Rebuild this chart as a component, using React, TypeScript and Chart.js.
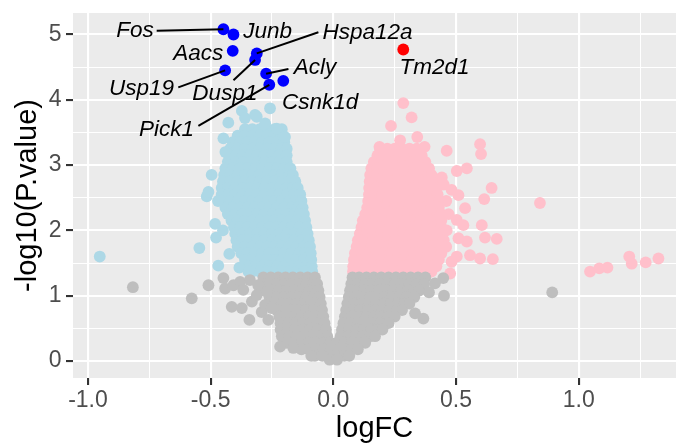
import React, { useEffect, useRef } from 'react';
import { Chart, registerables } from 'chart.js';

Chart.register(...registerables);

const FONT = '"Liberation Sans", Arial, Helvetica, sans-serif';

// Down-regulated (P < 0.05, logFC < 0). Each row: [-log10(P.value), logFC, logFC, ...]
const downRows: number[][] = [
  [3.55, -0.36, -0.33, -0.3, -0.27, -0.24, -0.21],
  [3.45, -0.39, -0.36, -0.33, -0.3, -0.27, -0.24, -0.21],
  [3.35, -0.41, -0.38, -0.35, -0.32, -0.29, -0.26, -0.23, -0.2],
  [3.25, -0.42, -0.39, -0.36, -0.33, -0.3, -0.27, -0.24, -0.21, -0.19],
  [3.15, -0.425, -0.4, -0.37, -0.34, -0.31, -0.28, -0.25, -0.22, -0.19],
  [3.05, -0.43, -0.4, -0.37, -0.34, -0.31, -0.28, -0.25, -0.22, -0.19],
  [2.95, -0.44, -0.41, -0.38, -0.35, -0.32, -0.29, -0.26, -0.23, -0.2, -0.175],
  [2.85, -0.445, -0.42, -0.39, -0.36, -0.33, -0.3, -0.27, -0.24, -0.21, -0.18, -0.165],
  [2.75, -0.45, -0.42, -0.39, -0.36, -0.33, -0.3, -0.27, -0.24, -0.21, -0.18, -0.155],
  [2.65, -0.455, -0.43, -0.4, -0.37, -0.34, -0.31, -0.28, -0.25, -0.22, -0.19, -0.165, -0.145],
  [2.55, -0.455, -0.43, -0.4, -0.37, -0.34, -0.31, -0.28, -0.25, -0.22, -0.19, -0.16, -0.135],
  [2.45, -0.45, -0.42, -0.39, -0.36, -0.33, -0.3, -0.27, -0.24, -0.21, -0.18, -0.155, -0.13],
  [2.35, -0.44, -0.41, -0.38, -0.35, -0.32, -0.29, -0.26, -0.23, -0.2, -0.17, -0.145, -0.125],
  [2.25, -0.43, -0.4, -0.37, -0.34, -0.31, -0.28, -0.25, -0.22, -0.19, -0.16, -0.14, -0.12],
  [2.15, -0.415, -0.39, -0.36, -0.33, -0.3, -0.27, -0.24, -0.21, -0.18, -0.15, -0.115],
  [2.05, -0.405, -0.38, -0.35, -0.32, -0.29, -0.26, -0.23, -0.2, -0.17, -0.14, -0.11],
  [1.95, -0.4, -0.37, -0.34, -0.31, -0.28, -0.25, -0.22, -0.19, -0.16, -0.13, -0.105],
  [1.85, -0.395, -0.37, -0.34, -0.31, -0.28, -0.25, -0.22, -0.19, -0.16, -0.13, -0.1],
  [1.75, -0.39, -0.36, -0.33, -0.3, -0.27, -0.24, -0.21, -0.18, -0.15, -0.12, -0.095],
  [1.65, -0.375, -0.35, -0.32, -0.29, -0.26, -0.23, -0.2, -0.17, -0.14, -0.115, -0.092],
  [1.55, -0.36, -0.33, -0.3, -0.27, -0.24, -0.21, -0.18, -0.15, -0.12, -0.09],
  [1.45, -0.345, -0.32, -0.29, -0.26, -0.23, -0.2, -0.17, -0.14, -0.11, -0.088],
  [1.37, -0.33, -0.3, -0.27, -0.24, -0.21, -0.18, -0.15, -0.12, -0.086],
];

// Scattered down-regulated genes: [logFC, -log10(P.value)]
const downExtra: number[][] = [
  [-0.952, 1.6], [-0.546, 1.73], [-0.482, 2.1], [-0.478, 1.89], [-0.469, 1.46],
  [-0.516, 2.52], [-0.509, 2.59], [-0.496, 2.85], [-0.448, 3.41], [-0.428, 3.65],
  [-0.373, 3.83], [-0.319, 3.77], [-0.258, 3.87], [-0.424, 1.64], [-0.383, 1.43],
  [-0.346, 1.37], [-0.36, 3.72], [-0.312, 3.74], [-0.278, 3.64], [-0.231, 3.56],
  [-0.197, 3.43], [-0.44, 3.2], [-0.47, 2.45], [-0.45, 2.0],
];

// Up-regulated (P < 0.05, logFC > 0). Each row: [-log10(P.value), logFC, logFC, ...]
const upRows: number[][] = [
  [3.25, 0.19, 0.22, 0.25, 0.28, 0.31, 0.34],
  [3.15, 0.18, 0.21, 0.24, 0.27, 0.3, 0.33, 0.36],
  [3.05, 0.165, 0.195, 0.225, 0.255, 0.285, 0.315, 0.345, 0.375],
  [2.95, 0.155, 0.18, 0.21, 0.24, 0.27, 0.3, 0.33, 0.36, 0.39],
  [2.85, 0.15, 0.175, 0.205, 0.235, 0.265, 0.295, 0.325, 0.355, 0.385, 0.4],
  [2.75, 0.148, 0.17, 0.2, 0.23, 0.26, 0.29, 0.32, 0.35, 0.38, 0.41],
  [2.65, 0.146, 0.175, 0.205, 0.235, 0.265, 0.295, 0.325, 0.355, 0.385, 0.42],
  [2.55, 0.145, 0.17, 0.2, 0.23, 0.26, 0.29, 0.32, 0.35, 0.38, 0.41, 0.425],
  [2.45, 0.142, 0.165, 0.195, 0.225, 0.255, 0.285, 0.315, 0.345, 0.375, 0.405, 0.43],
  [2.35, 0.138, 0.16, 0.19, 0.22, 0.25, 0.28, 0.31, 0.34, 0.37, 0.4, 0.43],
  [2.25, 0.13, 0.155, 0.185, 0.215, 0.245, 0.275, 0.305, 0.335, 0.365, 0.395, 0.425, 0.44],
  [2.15, 0.12, 0.145, 0.175, 0.205, 0.235, 0.265, 0.295, 0.325, 0.355, 0.385, 0.415, 0.44],
  [2.05, 0.115, 0.14, 0.17, 0.2, 0.23, 0.26, 0.29, 0.32, 0.35, 0.38, 0.41, 0.44],
  [1.95, 0.108, 0.135, 0.165, 0.195, 0.225, 0.255, 0.285, 0.315, 0.345, 0.375, 0.405, 0.435],
  [1.85, 0.1, 0.13, 0.16, 0.19, 0.22, 0.25, 0.28, 0.31, 0.34, 0.37, 0.4, 0.43, 0.45],
  [1.75, 0.095, 0.125, 0.155, 0.185, 0.215, 0.245, 0.275, 0.305, 0.335, 0.365, 0.395, 0.425, 0.44],
  [1.65, 0.088, 0.115, 0.145, 0.175, 0.205, 0.235, 0.265, 0.295, 0.325, 0.355, 0.385, 0.415, 0.44],
  [1.55, 0.084, 0.11, 0.14, 0.17, 0.2, 0.23, 0.26, 0.29, 0.32, 0.35, 0.38, 0.41, 0.43],
  [1.45, 0.081, 0.105, 0.135, 0.165, 0.195, 0.225, 0.255, 0.285, 0.315, 0.345, 0.375, 0.4, 0.42],
  [1.37, 0.08, 0.11, 0.14, 0.17, 0.2, 0.23, 0.26, 0.29, 0.32, 0.35, 0.38, 0.4],
];

// Scattered up-regulated genes: [logFC, -log10(P.value)]
const upExtra: number[][] = [
  [0.285, 3.95], [0.319, 3.73], [0.235, 3.6], [0.342, 3.43], [0.272, 3.38],
  [0.188, 3.28], [0.372, 3.28], [0.462, 3.22], [0.598, 3.32], [0.602, 3.17],
  [0.544, 2.95], [0.503, 2.91], [0.442, 2.81], [0.645, 2.65], [0.615, 2.48],
  [0.842, 2.42], [0.482, 2.62], [0.51, 2.54], [0.537, 2.34], [0.503, 2.16],
  [0.53, 2.08], [0.605, 2.08], [0.618, 1.89], [0.666, 1.87], [0.544, 1.83],
  [0.51, 1.88], [0.462, 2.0], [0.557, 1.62], [0.598, 1.57], [0.503, 1.6],
  [0.482, 1.52], [0.65, 1.56], [0.476, 1.34], [0.46, 2.45], [0.47, 2.25],
  [0.46, 1.75], [0.45, 2.7], [1.046, 1.37], [1.084, 1.42], [1.117, 1.43],
  [1.206, 1.6], [1.216, 1.49], [1.273, 1.51], [1.325, 1.57],
];

// Not significant, logFC < 0. Each row: [-log10(P.value), logFC, ...]
const flatLeftRows: number[][] = [
  [1.28, -0.285, -0.255, -0.225, -0.195, -0.165, -0.135, -0.105, -0.075],
  [1.18, -0.29, -0.26, -0.23, -0.2, -0.17, -0.14, -0.11, -0.085, -0.066],
  [1.08, -0.28, -0.25, -0.22, -0.19, -0.16, -0.13, -0.1, -0.08, -0.061],
  [0.98, -0.26, -0.23, -0.2, -0.17, -0.14, -0.11, -0.08, -0.056],
  [0.88, -0.24, -0.21, -0.18, -0.15, -0.12, -0.09, -0.07, -0.051],
  [0.78, -0.23, -0.2, -0.17, -0.14, -0.11, -0.08, -0.046],
  [0.68, -0.22, -0.19, -0.16, -0.13, -0.1, -0.07, -0.041],
  [0.58, -0.215, -0.185, -0.155, -0.125, -0.095, -0.065, -0.036],
  [0.48, -0.215, -0.185, -0.155, -0.125, -0.095, -0.065, -0.03],
  [0.38, -0.21, -0.18, -0.15, -0.12, -0.09, -0.06, -0.025],
  [0.28, -0.19, -0.16, -0.13, -0.1, -0.07, -0.04, -0.012],
  [0.18, -0.13, -0.1, -0.07, -0.04, -0.01],
  [0.08, -0.075, -0.045, -0.015],
  [0.02, -0.015],
];

// Not significant, logFC > 0. Each row: [-log10(P.value), logFC, ...]
const flatRightRows: number[][] = [
  [1.28, 0.078, 0.105, 0.135, 0.165, 0.195, 0.225, 0.255, 0.285, 0.315, 0.345, 0.375],
  [1.18, 0.073, 0.1, 0.13, 0.16, 0.19, 0.22, 0.25, 0.28, 0.31, 0.34, 0.37],
  [1.08, 0.068, 0.095, 0.125, 0.155, 0.185, 0.215, 0.245, 0.275, 0.305, 0.33, 0.35],
  [0.98, 0.063, 0.09, 0.12, 0.15, 0.18, 0.21, 0.24, 0.27, 0.3, 0.33],
  [0.88, 0.057, 0.085, 0.115, 0.145, 0.175, 0.205, 0.235, 0.265, 0.29, 0.31],
  [0.78, 0.052, 0.08, 0.11, 0.14, 0.17, 0.2, 0.23, 0.26, 0.28],
  [0.68, 0.047, 0.075, 0.105, 0.135, 0.165, 0.195, 0.225, 0.25],
  [0.58, 0.041, 0.07, 0.1, 0.13, 0.16, 0.19, 0.225],
  [0.48, 0.035, 0.065, 0.095, 0.125, 0.155, 0.18, 0.2],
  [0.38, 0.03, 0.06, 0.09, 0.12, 0.15, 0.17],
  [0.28, 0.015, 0.045, 0.075, 0.105, 0.13],
  [0.18, 0.02, 0.05, 0.075, 0.1],
  [0.08, 0.02, 0.045, 0.065],
  [0.02, 0.015],
];

// Scattered non-significant genes: [logFC, -log10(P.value)]
const flatExtra: number[][] = [
  [-0.817, 1.13], [-0.577, 0.96], [-0.509, 1.16], [-0.448, 1.27], [-0.441, 1.11],
  [-0.407, 1.16], [-0.38, 1.21], [-0.34, 1.24], [-0.367, 1.09], [-0.414, 0.83],
  [-0.373, 0.81], [-0.332, 0.91], [-0.342, 0.63], [-0.306, 1.16], [-0.312, 1.01],
  [-0.292, 0.75], [-0.271, 1.06], [-0.265, 0.63], [-0.278, 0.86], [-0.251, 0.81],
  [-0.217, 0.22], [-0.163, 0.2], [-0.09, 0.08],
  [0.448, 1.27], [0.414, 1.19], [0.451, 1.0], [0.367, 0.65], [0.333, 0.73],
  [0.39, 1.05], [0.892, 1.05],
];

// Highlighted genes
const geneNames = ['Fos', 'Junb', 'Hspa12a', 'Aacs', 'Usp19', 'Dusp1', 'Acly', 'Csnk1d', 'Pick1', 'Tm2d1'];
const geneLogFC = [-0.448, -0.407, -0.312, -0.41, -0.441, -0.319, -0.274, -0.204, -0.261, 0.285];
const geneLogP = [5.08, 5.0, 4.71, 4.75, 4.45, 4.61, 4.4, 4.29, 4.23, 4.77];

// Where each gene name sits (data units) and where its leader line starts (null = no line)
const labelLogFC = [-0.808, -0.268, 0.139, -0.551, -0.782, -0.442, -0.075, -0.054, -0.68, 0.412];
const labelLogP = [5.05, 5.04, 5.02, 4.7, 4.165, 4.1, 4.49, 3.95, 3.54, 4.49];
const leaderLogFC: (number | null)[] = [-0.72, null, -0.061, null, -0.632, -0.407, -0.183, null, -0.55, null];
const leaderLogP: (number | null)[] = [5.058, null, 5.034, null, 4.19, 4.3, 4.47, null, 3.6, null];

// Axes
const xBreaks = [-1, -0.75, -0.5, -0.25, 0, 0.25, 0.5, 0.75, 1, 1.25];
const xMajor = [-1, -0.5, 0, 0.5, 1];
const xTickLabels = ['-1.0', '-0.5', '0.0', '0.5', '1.0'];
const yBreaks = [0, 0.5, 1, 1.5, 2, 2.5, 3, 3.5, 4, 4.5, 5];
const yMajor = [0, 1, 2, 3, 4, 5];
const yTickLabels = ['0', '1', '2', '3', '4', '5'];

const fromRows = (rows: number[][]) =>
  rows.flatMap(([y, ...xs]) => xs.map((x) => ({ x, y })));
const fromPairs = (pairs: number[][]) => pairs.map(([x, y]) => ({ x, y }));

const panelBackground = {
  id: 'panelBackground',
  beforeDraw(chart: any) {
    const { ctx, chartArea } = chart;
    const { left, top, right, bottom } = chartArea;
    ctx.save();
    ctx.fillStyle = '#EBEBEB';
    ctx.fillRect(left, top, right - left, bottom - top);
    ctx.restore();
  },
};

const geneLabels = {
  id: 'geneLabels',
  afterDatasetsDraw(chart: any) {
    const { ctx } = chart;
    const xs = chart.scales.x;
    const ys = chart.scales.y;
    ctx.save();
    ctx.strokeStyle = '#000000';
    ctx.lineWidth = 2;
    ctx.lineCap = 'butt';
    geneNames.forEach((_, i) => {
      const sx = leaderLogFC[i];
      const sy = leaderLogP[i];
      if (sx === null || sy === null) return;
      ctx.beginPath();
      ctx.moveTo(xs.getPixelForValue(sx), ys.getPixelForValue(sy));
      ctx.lineTo(xs.getPixelForValue(geneLogFC[i]), ys.getPixelForValue(geneLogP[i]));
      ctx.stroke();
    });
    ctx.fillStyle = '#000000';
    ctx.font = `italic 22.5px ${FONT}`;
    ctx.textAlign = 'center';
    ctx.textBaseline = 'middle';
    geneNames.forEach((name, i) => {
      ctx.fillText(name, xs.getPixelForValue(labelLogFC[i]), ys.getPixelForValue(labelLogP[i]));
    });
    ctx.restore();
  },
};

export default function App() {
  const canvasRef = useRef<HTMLCanvasElement | null>(null);

  useEffect(() => {
    const canvas = canvasRef.current;
    if (!canvas) return;

    const chart = new Chart(canvas, {
      type: 'scatter',
      data: {
        datasets: [
          {
            label: 'Down',
            data: [...fromRows(downRows), ...fromPairs(downExtra)],
            backgroundColor: '#ADD8E6',
            order: 3,
          },
          {
            label: 'Up',
            data: [...fromRows(upRows), ...fromPairs(upExtra)],
            backgroundColor: '#FFC0CB',
            order: 2,
          },
          {
            label: 'NoDiff',
            data: [...fromRows(flatLeftRows), ...fromRows(flatRightRows), ...fromPairs(flatExtra)],
            backgroundColor: '#BEBEBE',
            order: 1,
          },
          {
            label: 'Highlighted',
            data: geneNames.map((_, i) => ({ x: geneLogFC[i], y: geneLogP[i] })),
            backgroundColor: geneLogFC.map((v) => (v > 0 ? '#FF0000' : '#0000FF')),
            order: 0,
          },
        ],
      },
      options: {
        responsive: false,
        animation: false,
        devicePixelRatio: 1,
        events: [],
        layout: { autoPadding: false, padding: { top: 13, right: 0, bottom: 0, left: 0 } },
        elements: { point: { radius: 5.9, hoverRadius: 5.9, borderWidth: 0 } },
        plugins: { legend: { display: false }, tooltip: { enabled: false } },
        scales: {
          x: {
            type: 'linear',
            position: 'bottom',
            min: -1.061,
            max: 1.3965,
            afterBuildTicks: (s: any) => {
              s.ticks = xBreaks.map((v) => ({ value: v }));
            },
            afterFit: (s: any) => {
              s.height = 69;
              s.paddingLeft = 0;
              s.paddingRight = 0;
            },
            border: { display: false },
            grid: {
              color: '#FFFFFF',
              lineWidth: (c: any) => (xMajor.includes(c.tick?.value) ? 2.1 : 1.05),
              drawTicks: true,
              tickLength: 7,
              tickWidth: 2.1,
              tickColor: (c: any) => (xMajor.includes(c.tick?.value) ? '#333333' : 'rgba(0,0,0,0)'),
            },
            ticks: {
              autoSkip: false,
              maxRotation: 0,
              minRotation: 0,
              padding: 1.5,
              color: '#4D4D4D',
              font: { family: FONT, size: 23, lineHeight: 1.2 },
              callback: (v: any) => {
                const i = xMajor.indexOf(Number(v));
                return i >= 0 ? xTickLabels[i] : '';
              },
            },
            title: {
              display: true,
              text: 'logFC',
              color: '#000000',
              font: { family: FONT, size: 29, lineHeight: 1 },
              padding: { top: 0, bottom: 3.5 },
            },
          },
          y: {
            type: 'linear',
            position: 'left',
            min: -0.26,
            max: 5.329,
            afterBuildTicks: (s: any) => {
              s.ticks = yBreaks.map((v) => ({ value: v }));
            },
            afterFit: (s: any) => {
              s.width = 73;
              s.paddingTop = 0;
              s.paddingBottom = 0;
            },
            border: { display: false },
            grid: {
              color: '#FFFFFF',
              lineWidth: (c: any) => (yMajor.includes(c.tick?.value) ? 2.1 : 1.05),
              drawTicks: true,
              tickLength: 7,
              tickWidth: 2.1,
              tickColor: (c: any) => (yMajor.includes(c.tick?.value) ? '#333333' : 'rgba(0,0,0,0)'),
            },
            ticks: {
              autoSkip: false,
              padding: 4.5,
              color: '#4D4D4D',
              font: { family: FONT, size: 23, lineHeight: 1 },
              callback: (v: any) => {
                const i = yMajor.indexOf(Number(v));
                return i >= 0 ? yTickLabels[i] : '';
              },
            },
            title: {
              display: true,
              text: '-log10(P.value)',
              color: '#000000',
              font: { family: FONT, size: 29, lineHeight: 1 },
              padding: { top: 13, bottom: 0 },
            },
          },
        },
      },
      plugins: [panelBackground, geneLabels],
    } as any);

    return () => {
      chart.destroy();
    };
  }, []);

  return (
    <div style={{ position: 'absolute', left: 0, top: 0, width: 676, height: 447, background: '#FFFFFF' }}>
      <canvas ref={canvasRef} width={676} height={447} style={{ display: 'block', width: 676, height: 447 }} />
    </div>
  );
}
